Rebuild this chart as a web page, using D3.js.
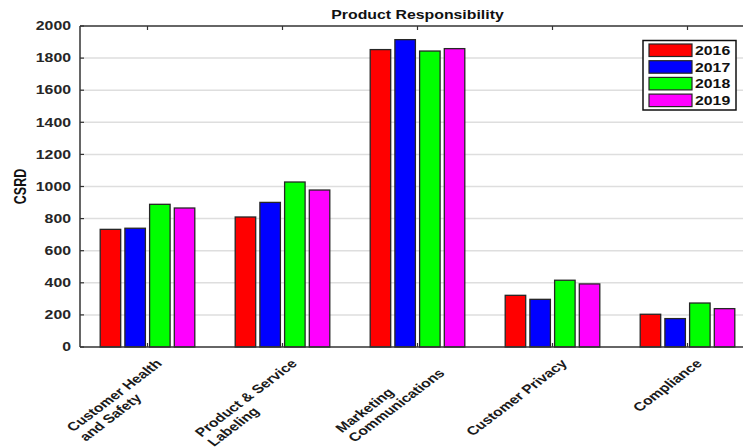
<!DOCTYPE html>
<html>
<head>
<meta charset="utf-8">
<script src="https://cdn.jsdelivr.net/npm/d3@7"></script>
<style>
  html, body { margin: 0; padding: 0; background: #fff; }
  svg { display: block; }
  text { font-family: "Liberation Sans", Arial, sans-serif; font-weight: bold; }
</style>
</head>
<body>
<script>
// Product responsibility disclosures per category and year
const categories = [
  "Customer Health\nand Safety",
  "Product & Service\nLabeling",
  "Marketing\nCommunications",
  "Customer Privacy",
  "Compliance"
];
const years = ["2016", "2017", "2018", "2019"];
const values2016 = [733, 810, 1853, 322, 204];
const values2017 = [740, 901, 1915, 297, 177];
const values2018 = [889, 1028, 1844, 416, 274];
const values2019 = [866, 978, 1859, 393, 239];
const yTicks = [0, 200, 400, 600, 800, 1000, 1200, 1400, 1600, 1800, 2000];
const colors = ["#ff0000", "#0000ff", "#00ff00", "#ff00ff"];

const series = [values2016, values2017, values2018, values2019];

const W = 743, H = 448;
const plotLeft = 80, plotRight = 755, plotTop = 26, plotBottom = 347;
const k = 1.32; // horizontal text stretch

const svg = d3.select("body").append("svg")
  .attr("width", W).attr("height", H);

const x0 = d3.scaleBand().domain(d3.range(categories.length))
  .range([plotLeft, plotRight]).paddingInner(0).paddingOuter(0);
const x1 = d3.scaleBand().domain(years)
  .range([-47.3, 47.3]).paddingInner(0.17).paddingOuter(0);
const y = d3.scaleLinear().domain([0, 2000]).range([plotBottom, plotTop]);

// horizontal grid
svg.append("g").selectAll("line").data(yTicks.filter(t => t > 0 && t < 2000))
  .join("line")
  .attr("x1", plotLeft).attr("x2", plotRight)
  .attr("y1", d => y(d)).attr("y2", d => y(d))
  .attr("stroke", "#dedede").attr("stroke-width", 1.5);

// bars
const groups = svg.append("g").selectAll("g").data(categories)
  .join("g")
  .attr("transform", (d, i) => `translate(${x0(i) + x0.bandwidth() / 2},0)`);

groups.selectAll("rect")
  .data((d, i) => years.map((yr, j) => ({ yr, j, v: series[j][i] })))
  .join("rect")
  .attr("x", d => x1(d.yr))
  .attr("width", x1.bandwidth())
  .attr("y", d => y(d.v))
  .attr("height", d => y(0) - y(d.v))
  .attr("fill", d => colors[d.j])
  .attr("stroke", "#262626").attr("stroke-width", 1.3);

// axes box lines
const axisColor = "#333";
svg.append("line").attr("x1", plotLeft).attr("x2", plotRight).attr("y1", plotTop).attr("y2", plotTop)
  .attr("stroke", axisColor).attr("stroke-width", 1.5);
svg.append("line").attr("x1", plotLeft).attr("x2", plotRight).attr("y1", plotBottom).attr("y2", plotBottom)
  .attr("stroke", axisColor).attr("stroke-width", 1.5);
svg.append("line").attr("x1", plotLeft).attr("x2", plotLeft).attr("y1", plotTop).attr("y2", plotBottom)
  .attr("stroke", axisColor).attr("stroke-width", 1.5);

// x ticks at group centres (top and bottom, pointing inward)
const centers = categories.map((d, i) => x0(i) + x0.bandwidth() / 2);
svg.append("g").selectAll("line").data(centers).join("line")
  .attr("x1", d => d).attr("x2", d => d).attr("y1", plotTop).attr("y2", plotTop + 4)
  .attr("stroke", axisColor).attr("stroke-width", 1.2);
svg.append("g").selectAll("line").data(centers).join("line")
  .attr("x1", d => d).attr("x2", d => d).attr("y1", plotBottom).attr("y2", plotBottom - 4)
  .attr("stroke", axisColor).attr("stroke-width", 1.2);

// y ticks and labels
svg.append("g").selectAll("line").data(yTicks).join("line")
  .attr("x1", plotLeft).attr("x2", plotLeft + 4)
  .attr("y1", d => y(d)).attr("y2", d => y(d))
  .attr("stroke", axisColor).attr("stroke-width", 1.2);

svg.append("g").selectAll("g").data(yTicks).join("g")
  .attr("transform", d => `translate(71,${y(d)}) scale(${k},1)`)
  .append("text")
  .attr("text-anchor", "end").attr("dy", "0.35em")
  .attr("font-size", 12).attr("fill", "#262626")
  .text(d => d);

// y label
svg.append("g").attr("transform", `translate(20.5,${(plotTop + plotBottom) / 2}) scale(${k},1) rotate(-90)`)
  .append("text").attr("text-anchor", "middle").attr("dy", "0.35em")
  .attr("font-size", 12.5).attr("fill", "#111").text("CSRD");

// title
svg.append("g").attr("transform", `translate(${(plotLeft + plotRight) / 2},19) scale(${k},1)`)
  .append("text").attr("text-anchor", "middle")
  .attr("font-size", 12).attr("fill", "#111").text("Product Responsibility");

// rotated category labels, lines left-aligned, block right edge at the tick
const lh = 13.5, asc = 9;
categories.forEach((c, i) => {
  const lines = c.split("\n");
  const g = svg.append("g")
    .attr("transform", `translate(${centers[i] + 7},358) scale(${k},1) rotate(-45)`);
  const texts = lines.map((ln, j) => g.append("text")
    .attr("font-size", 12).attr("fill", "#1a1a1a")
    .attr("y", asc + j * lh).text(ln));
  const wMax = d3.max(texts, t => t.node().getComputedTextLength());
  texts.forEach(t => t.attr("x", -wMax));
});

// legend
const lg = svg.append("g");
lg.append("rect").attr("x", 643).attr("y", 40.5).attr("width", 93).attr("height", 69.5)
  .attr("fill", "#fff").attr("stroke", "#111").attr("stroke-width", 1.5);
years.forEach((yr, j) => {
  const ry = 44 + j * 16.7;
  lg.append("rect").attr("x", 649).attr("y", ry).attr("width", 43).attr("height", 12.5)
    .attr("fill", colors[j]).attr("stroke", "#262626").attr("stroke-width", 1.2);
  lg.append("g").attr("transform", `translate(695,${ry + 6.5}) scale(${k},1)`)
    .append("text").attr("dy", "0.36em").attr("font-size", 12).attr("fill", "#111").text(yr);
});
</script>
</body>
</html>
